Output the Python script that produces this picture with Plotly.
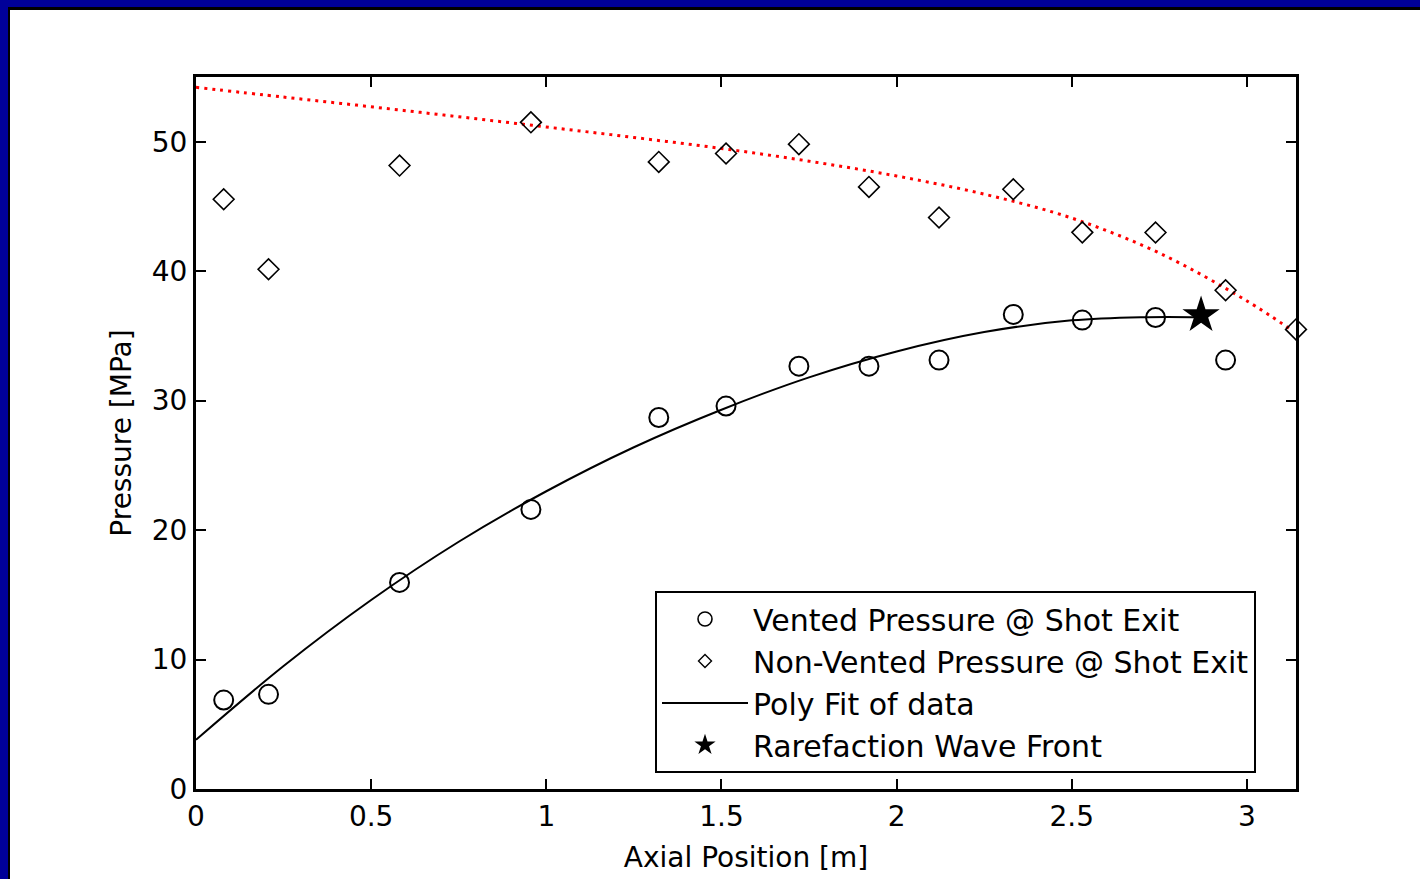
import plotly.graph_objects as go

# ---------------- data ----------------
axial_pos = [0.079, 0.207, 0.581, 0.956, 1.321, 1.513, 1.721, 1.921, 2.121, 2.333, 2.530, 2.739, 2.939]
vented_p = [6.87, 7.31, 15.96, 21.6, 28.7, 29.58, 32.66, 32.66, 33.13, 36.66, 36.22, 36.42, 33.13]

axial_pos_nv = [0.079, 0.207, 0.581, 0.956, 1.321, 1.513, 1.721, 1.921, 2.121, 2.333, 2.530, 2.739, 2.939, 3.14]
nonvented_p = [45.56, 40.15, 48.16, 51.5, 48.44, 49.09, 49.81, 46.51, 44.15, 46.33, 43.0, 42.99, 38.53, 35.5]

fit_x = [0, 0.25, 0.5, 0.75, 1.0, 1.25, 1.5, 1.75, 2.0, 2.25, 2.5, 2.7, 2.87]
fit_y = [3.8, 9.5, 14.6, 19.1, 23.0, 26.4, 29.3, 31.8, 33.8, 35.3, 36.2, 36.45, 36.45]

nv_fit_x = [0, 0.25, 0.5, 0.75, 1.0, 1.25, 1.5, 1.75, 2.0, 2.25, 2.5, 2.75, 3.0, 3.13]
nv_fit_y = [54.2, 53.45, 52.7, 51.93, 51.14, 50.33, 49.48, 48.5, 47.35, 45.95, 44.1, 41.4, 37.7, 35.4]

wave_x = [2.869]
wave_y = [36.6]

x_ticks = [0, 0.5, 1, 1.5, 2, 2.5, 3]
y_ticks = [0, 10, 20, 30, 40, 50]

legend_names = ["Vented Pressure @ Shot Exit", "Non-Vented Pressure @ Shot Exit",
                "Poly Fit of data", "Rarefaction Wave Front"]

# ---------------- layout geometry ----------------
W, H = 1420, 879
ML, MR, MT, MB = 196, 124, 77, 90
PW, PH = W - ML - MR, H - MT - MB

def px(xp):
    return (xp - ML) / PW

def py(yp):
    return (H - MB - yp) / PH

FONT = "DejaVu Sans, Liberation Sans, Arial, sans-serif"
BLUE = "#000099"

fig = go.Figure()

# red dotted fit (non-vented)
fig.add_trace(go.Scatter(x=nv_fit_x, y=nv_fit_y, mode="lines", showlegend=False,
                         line=dict(color="#ff0000", width=3, dash="3px,5px", shape="spline"),
                         hoverinfo="skip"))
# black poly fit
fig.add_trace(go.Scatter(x=fit_x, y=fit_y, mode="lines", showlegend=False,
                         line=dict(color="black", width=2, shape="spline"), hoverinfo="skip"))
# vented circles
fig.add_trace(go.Scatter(x=axial_pos, y=vented_p, mode="markers", showlegend=False,
                         cliponaxis=False,
                         marker=dict(symbol="circle-open", size=19, color="black",
                                     line=dict(width=2, color="black"))))
# non-vented diamonds
fig.add_trace(go.Scatter(x=axial_pos_nv, y=nonvented_p, mode="markers", showlegend=False,
                         cliponaxis=False,
                         marker=dict(symbol="diamond-open", size=16, color="black",
                                     line=dict(width=1.6, color="black"))))
# rarefaction wave front star
fig.add_trace(go.Scatter(x=wave_x, y=wave_y, mode="markers", showlegend=False,
                         cliponaxis=False,
                         marker=dict(symbol="star", size=28, color="black",
                                     line=dict(width=0))))

# legend-only entries (no data points)
fig.add_trace(go.Scatter(x=[None], y=[None], mode="markers", name=legend_names[0],
                         marker=dict(symbol="circle-open", size=14, color="black",
                                     line=dict(width=1.6, color="black"))))
fig.add_trace(go.Scatter(x=[None], y=[None], mode="markers", name=legend_names[1],
                         marker=dict(symbol="diamond-open", size=10, color="black",
                                     line=dict(width=1.4, color="black"))))
fig.add_trace(go.Scatter(x=[None], y=[None], mode="lines", name=legend_names[2],
                         line=dict(color="black", width=2)))
fig.add_trace(go.Scatter(x=[None], y=[None], mode="markers", name=legend_names[3],
                         marker=dict(symbol="star", size=16, color="black", line=dict(width=0))))

shapes = [
    # blue frame top and left
    dict(type="rect", xref="paper", yref="paper", x0=px(0), x1=px(W), y0=py(7), y1=py(0),
         fillcolor=BLUE, line=dict(width=0), layer="above"),
    dict(type="rect", xref="paper", yref="paper", x0=px(0), x1=px(8), y0=py(H), y1=py(0),
         fillcolor=BLUE, line=dict(width=0), layer="above"),
    # thin black inner edge
    dict(type="rect", xref="paper", yref="paper", x0=px(8), x1=px(W), y0=py(10), y1=py(7),
         fillcolor="black", line=dict(width=0), layer="above"),
    dict(type="rect", xref="paper", yref="paper", x0=px(8), x1=px(10), y0=py(H), y1=py(7),
         fillcolor="black", line=dict(width=0), layer="above"),
]

axis_common = dict(showgrid=False, zeroline=False, showline=True, linecolor="black",
                   linewidth=3, mirror="ticks", ticks="inside", ticklen=10, tickwidth=2,
                   tickcolor="black", automargin=False,
                   tickfont=dict(family=FONT, size=28, color="black"))

fig.update_layout(
    width=W, height=H, autosize=False,
    margin=dict(l=ML, r=MR, t=MT, b=MB, pad=0),
    paper_bgcolor="white", plot_bgcolor="white",
    font=dict(family=FONT, size=28, color="black"),
    xaxis=dict(range=[0, 3.14], tickvals=x_ticks,
               title=dict(text="Axial Position [m]", font=dict(family=FONT, size=28), standoff=16),
               **axis_common),
    yaxis=dict(range=[0, 55], tickvals=y_ticks,
               title=dict(text="Pressure [MPa]", font=dict(family=FONT, size=28), standoff=12),
               **axis_common),
    legend=dict(x=px(655), y=py(591), xanchor="left", yanchor="top",
                bgcolor="white", bordercolor="black", borderwidth=2,
                font=dict(family=FONT, size=30, color="black"),
                itemwidth=86, tracegroupgap=0,
                entrywidth=530, entrywidthmode="pixels"),
    shapes=shapes,
    showlegend=True,
)

fig.write_html("out.html")
